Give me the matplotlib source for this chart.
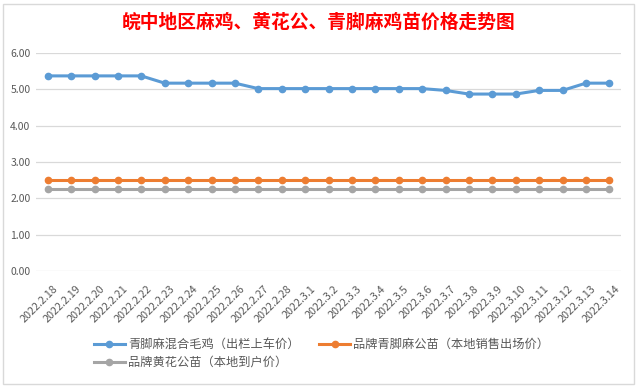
import matplotlib.pyplot as plt
import matplotlib.transforms as mtransforms
from matplotlib.patches import Rectangle

plt.rcParams['font.family'] = ['Noto Sans CJK SC', 'DejaVu Sans']

# Dates and prices
dates = ['2022.2.18', '2022.2.19', '2022.2.20', '2022.2.21', '2022.2.22', '2022.2.23',
         '2022.2.24', '2022.2.25', '2022.2.26', '2022.2.27', '2022.2.28', '2022.3.1',
         '2022.3.2', '2022.3.3', '2022.3.4', '2022.3.5', '2022.3.6', '2022.3.7',
         '2022.3.8', '2022.3.9', '2022.3.10', '2022.3.11', '2022.3.12', '2022.3.13',
         '2022.3.14']
mixed_chicken = [5.37, 5.37, 5.37, 5.37, 5.37, 5.17, 5.17, 5.17, 5.17, 5.02, 5.02, 5.02,
                 5.02, 5.02, 5.02, 5.02, 5.02, 4.97, 4.87, 4.87, 4.87, 4.97, 4.97, 5.17,
                 5.17]
qingjiao_chick = [2.5] * 25
huanghua_chick = [2.25] * 25

series_names = ['青脚麻混合毛鸡（出栏上车价）', '品牌青脚麻公苗（本地销售出场价）', '品牌黄花公苗（本地到户价）']
colors = ['#5B9BD5', '#ED7D31', '#A5A5A5']
title = '皖中地区麻鸡、黄花公、青脚麻鸡苗价格走势图'

fig = plt.figure(figsize=(6.38, 3.87), dpi=100)
ax = fig.add_axes([36 / 638, 1 - 271 / 387, 585 / 638, 218 / 387])

x = list(range(len(dates)))
lines = []
for vals, c, name in zip([mixed_chicken, qingjiao_chick, huanghua_chick], colors, series_names):
    ln, = ax.plot(x, vals, color=c, linewidth=2.2, marker='o', markersize=4.5, label=name)
    lines.append(ln)

ax.set_xlim(-0.5, len(dates) - 0.5)
ax.set_ylim(0, 6)
ax.set_yticks([0, 1, 2, 3, 4, 5, 6])
ax.set_yticklabels([f'{v:.2f}' for v in range(7)])
ax.set_xticks(x)
ax.set_xticklabels(dates, rotation=45, ha='right', rotation_mode='anchor')
ax.tick_params(axis='y', length=0, labelsize=7.5, labelcolor='#595959', pad=4)
ax.tick_params(axis='x', length=0, labelsize=7.8, labelcolor='#595959', pad=9)
# Excel centres the rotated labels a little to the right of each tick
shift = mtransforms.ScaledTranslation(5 / 100, 0, fig.dpi_scale_trans)
for lbl in ax.get_xticklabels():
    lbl.set_transform(lbl.get_transform() + shift)
ax.grid(axis='y', color='#D9D9D9', linewidth=0.9)
ax.set_axisbelow(True)
for s in ax.spines.values():
    s.set_visible(False)

fig.text(0.5, 1 - 22 / 387, title, color='red', fontsize=13.5, fontweight='bold',
         ha='center', va='center')

# legend: matplotlib fills columns first, so reorder to get blue/orange on row 1
handles = [lines[0], lines[2], lines[1]]
fig.legend(handles, [h.get_label() for h in handles], loc='upper left',
           bbox_to_anchor=(94 / 638, 1 - 338 / 387), ncol=2, frameon=False,
           fontsize=8.8, labelcolor='#595959', handlelength=2.5, columnspacing=1.6,
           handletextpad=0.3, labelspacing=0.4, borderpad=0, borderaxespad=0)

fig.patches.append(Rectangle((3 / 638, 3 / 387), 631 / 638, 380 / 387, transform=fig.transFigure,
                             fill=False, edgecolor='#D9D9D9', linewidth=1))

plt.savefig('out.png', dpi=100)
